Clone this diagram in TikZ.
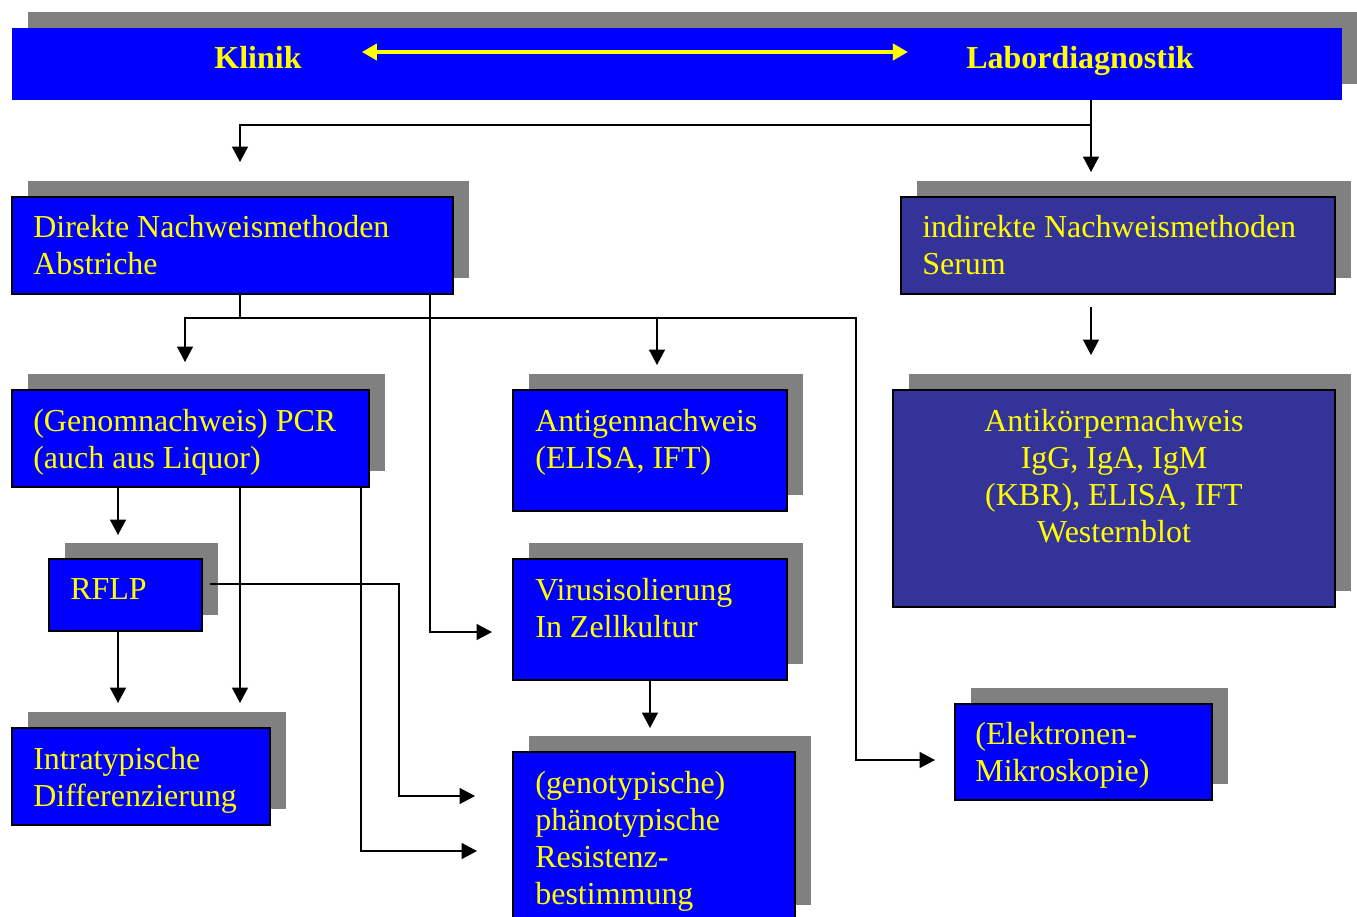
\documentclass[tikz,border=0pt]{standalone}
\usepackage{fontspec}
\setmainfont{Liberation Serif}
\usetikzlibrary{arrows.meta,fit}
\definecolor{pblue}{HTML}{0000FF}
\definecolor{pdark}{HTML}{333399}
\definecolor{shad}{HTML}{808080}
\definecolor{pyel}{HTML}{FFFF00}
\newcommand{\pbox}[6]{%
  \fill[shad] (#2+16,#3-16) rectangle (#4+16,#5-16);
  \node[#6, fit={(#2,#3) (#4,#5)}] (#1) {};
}
\begin{document}
\begin{tikzpicture}[x=0.02cm,y=-0.02cm,
  boxb/.style={draw=black, line width=0.9pt, fill=pblue, inner sep=0pt, outer sep=0pt},
  boxd/.style={draw=black, line width=0.9pt, fill=pdark, inner sep=0pt, outer sep=0pt},
  topbar/.style={draw=none, fill=pblue, inner sep=0pt, outer sep=0pt},
  txt/.style={text=pyel, font=\fontsize{18.2}{21}\selectfont, inner sep=0pt, anchor=base west, align=left},
  txtc/.style={text=pyel, font=\fontsize{18.2}{21}\selectfont, inner sep=0pt, anchor=base, align=center},
  ttl/.style={text=pyel, font=\fontsize{18.2}{21}\selectfont\bfseries, inner sep=0pt, anchor=base},
  arr/.style={draw=black, line width=0.9pt, -{Triangle[length=0.31cm,width=0.32cm]}},
  yarr/.style={draw=pyel, line width=2.4pt, {Triangle[length=0.3cm,width=0.32cm]}-{Triangle[length=0.3cm,width=0.32cm]}}
]
\useasboundingbox (0,0) rectangle (1357,917);
\clip (0,0) rectangle (1357,917);

% boxes
\pbox{top}{12}{28}{1342}{100}{topbar}
\pbox{dir}{12}{197}{453}{294}{boxb}
\pbox{indir}{901}{197}{1335}{294}{boxd}
\pbox{pcr}{12}{390}{369}{487}{boxb}
\pbox{antigen}{513}{390}{787}{511}{boxb}
\pbox{antik}{893}{390}{1335}{607}{boxd}
\pbox{rflp}{49}{559}{202}{631}{boxb}
\pbox{virus}{513}{559}{787}{680}{boxb}
\pbox{intra}{12}{728}{270}{825}{boxb}
\pbox{res}{513}{752}{795}{921}{boxb}
\pbox{elek}{955}{704}{1212}{800}{boxb}

% texts (anchored at the baseline of their last line)
\node[ttl] (klinik) at (258,68) {Klinik};
\node[ttl] (labor) at (1080,68) {Labordiagnostik};
\node[txt] (tdir) at (33,274) {Direkte Nachweismethoden\\Abstriche};
\node[txt] (tindir) at (922,274) {indirekte Nachweismethoden\\Serum};
\node[txt] (tpcr) at (33,468) {(Genomnachweis) PCR\\(auch aus Liquor)};
\node[txt] (tantigen) at (535,468) {Antigennachweis\\(ELISA, IFT)};
\node[txtc] (tantik) at (1114,542) {Antikörpernachweis\\IgG, IgA, IgM\\(KBR), ELISA, IFT\\Westernblot};
\node[txt] (trflp) at (70,599) {RFLP};
\node[txt] (tvirus) at (535,637) {Virusisolierung\\In Zellkultur};
\node[txt] (tintra) at (33,806) {Intratypische\\Differenzierung};
\node[txt] (tres) at (535,904) {(genotypische)\\phänotypische\\Resistenz-\\bestimmung};
\node[txt] (telek) at (975,781) {(Elektronen-\\Mikroskopie)};

% yellow double arrow
\draw[yarr, shorten <=1.2cm, shorten >=1.16cm] (klinik.east |- 0,52) -- (labor.west |- 0,52);

% connectors
\draw[arr, shorten >=0.7cm] (top.south -| 1091,0) -- (1091,125) -| (dir.north -| 240,0);
\draw[arr, shorten >=0.5cm] (top.south -| 1091,0) -- (indir.north -| 1091,0);
\draw[arr, shorten >=0.56cm] (dir.south -| 240,0) -- (240,318) -| (pcr.north -| 185,0);
\draw[arr, shorten >=0.5cm] (dir.south -| 240,0) -- (240,318) -| (antigen.north -| 657,0);
\draw[arr, shorten >=0.4cm] (dir.south -| 240,0) -- (240,318) -| (856,760) -- (elek.west |- 0,760);
\draw[arr, shorten >=0.42cm] (dir.south -| 430,0) |- (virus.west |- 0,632);
\draw[arr, shorten >=0.48cm] (pcr.south -| 118,0) -- (rflp.north -| 118,0);
\draw[arr, shorten >=0.5cm] (pcr.south -| 240,0) -- (intra.north -| 240,0);
\draw[arr, shorten >=0.72cm] (pcr.south -| 361,0) |- (res.west |- 0,851);
\draw[arr, shorten >=0.5cm] (rflp.south -| 118,0) -- (intra.north -| 118,0);
\draw[arr, shorten <=0.16cm, shorten >=0.76cm] (rflp.east |- 0,584) -- (399,584) |- (res.west |- 0,796);
\draw[arr, shorten >=0.48cm] (virus.south) -- (res.north -| virus.south);
\draw[arr, shorten <=0.26cm, shorten >=0.7cm] (indir.south -| 1091,0) -- (antik.north -| 1091,0);
\end{tikzpicture}
\end{document}
